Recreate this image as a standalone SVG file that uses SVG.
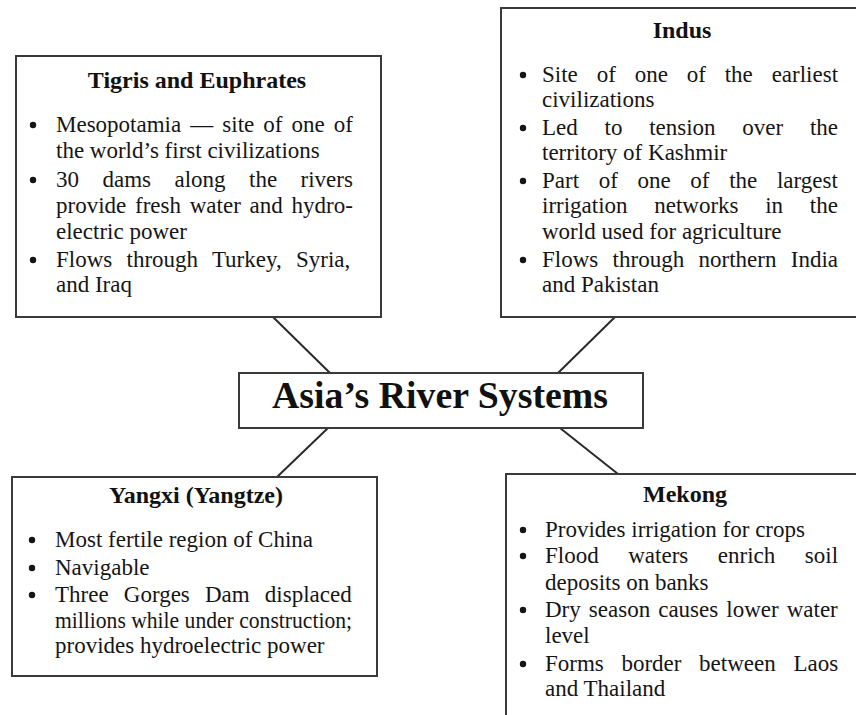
<svg xmlns="http://www.w3.org/2000/svg" width="856" height="715" viewBox="0 0 856 715">
<style>
.box{fill:#fff;stroke:#3a3a3a;stroke-width:2}
.t{font-family:"Liberation Serif",serif;font-size:23px;fill:#151515}
.h{font-family:"Liberation Serif",serif;font-size:24px;font-weight:bold;fill:#111;text-anchor:middle}
.main{font-family:"Liberation Serif",serif;font-size:37px;font-weight:bold;fill:#111;text-anchor:middle}
.b{fill:#151515}
.c{stroke:#2a2a2a;stroke-width:2;fill:none}
</style>
<rect width="856" height="715" fill="#fff"/>
<g id="connectors">
<line class="c" x1="273" y1="317" x2="330" y2="373"/>
<line class="c" x1="615" y1="317" x2="558" y2="373"/>
<line class="c" x1="328" y1="428" x2="277" y2="477"/>
<line class="c" x1="560" y1="428" x2="618" y2="474"/>
</g>
<g id="center">
<rect class="box" x="239" y="373" width="404" height="55"/>
<text class="main" x="440" y="408" textLength="336" lengthAdjust="spacingAndGlyphs">Asia’s River Systems</text>
</g>
<g id="tigris">
<rect class="box" x="16" y="56" width="365" height="261"/>
<text class="h" x="197" y="88">Tigris and Euphrates</text>
<circle class="b" cx="33" cy="125" r="3.2"/>
<circle class="b" cx="33" cy="180" r="3.2"/>
<circle class="b" cx="33" cy="260" r="3.2"/>
<text class="t" x="56" y="132" word-spacing="3.3">Mesopotamia — site of one of</text>
<text class="t" x="56" y="158">the world’s first civilizations</text>
<text class="t" x="56" y="187" word-spacing="17.7">30 dams along the rivers</text>
<text class="t" x="56" y="213" word-spacing="3">provide fresh water and hydro-</text>
<text class="t" x="56" y="239">electric power</text>
<text class="t" x="56" y="267" word-spacing="8.5">Flows through Turkey, Syria,</text>
<text class="t" x="56" y="292">and Iraq</text>
</g>
<g id="indus">
<rect class="box" x="501" y="8" width="362" height="309"/>
<text class="h" x="682" y="38">Indus</text>
<circle class="b" cx="523" cy="75" r="3.2"/>
<circle class="b" cx="523" cy="128" r="3.2"/>
<circle class="b" cx="523" cy="181" r="3.2"/>
<circle class="b" cx="523" cy="260" r="3.2"/>
<text class="t" x="542" y="82" word-spacing="13.1">Site of one of the earliest</text>
<text class="t" x="542" y="107">civilizations</text>
<text class="t" x="542" y="135" word-spacing="21">Led to tension over the</text>
<text class="t" x="542" y="160">territory of Kashmir</text>
<text class="t" x="542" y="188" word-spacing="13.9">Part of one of the largest</text>
<text class="t" x="542" y="213" word-spacing="20.9">irrigation networks in the</text>
<text class="t" x="542" y="239">world used for agriculture</text>
<text class="t" x="542" y="267" word-spacing="8.6">Flows through northern India</text>
<text class="t" x="542" y="292">and Pakistan</text>
</g>
<g id="yangxi">
<rect class="box" x="12" y="477" width="365" height="199"/>
<text class="h" x="196" y="503">Yangxi (Yangtze)</text>
<circle class="b" cx="32" cy="540" r="3.2"/>
<circle class="b" cx="32" cy="568" r="3.2"/>
<circle class="b" cx="32" cy="595" r="3.2"/>
<text class="t" x="55" y="547">Most fertile region of China</text>
<text class="t" x="55" y="575">Navigable</text>
<text class="t" x="55" y="602" word-spacing="9.4">Three Gorges Dam displaced</text>
<text class="t" x="55" y="628" textLength="297" lengthAdjust="spacingAndGlyphs">millions while under construction;</text>
<text class="t" x="55" y="653">provides hydroelectric power</text>
</g>
<g id="mekong">
<rect class="box" x="506" y="474" width="360" height="270"/>
<text class="h" x="685" y="502">Mekong</text>
<circle class="b" cx="523" cy="530" r="3.2"/>
<circle class="b" cx="523" cy="556" r="3.2"/>
<circle class="b" cx="523" cy="610" r="3.2"/>
<circle class="b" cx="523" cy="664" r="3.2"/>
<text class="t" x="545" y="537">Provides irrigation for crops</text>
<text class="t" x="545" y="563" word-spacing="23.8">Flood waters enrich soil</text>
<text class="t" x="545" y="590">deposits on banks</text>
<text class="t" x="545" y="617" word-spacing="2.3">Dry season causes lower water</text>
<text class="t" x="545" y="643">level</text>
<text class="t" x="545" y="671" word-spacing="11.9">Forms border between Laos</text>
<text class="t" x="545" y="696">and Thailand</text>
</g>
</svg>
